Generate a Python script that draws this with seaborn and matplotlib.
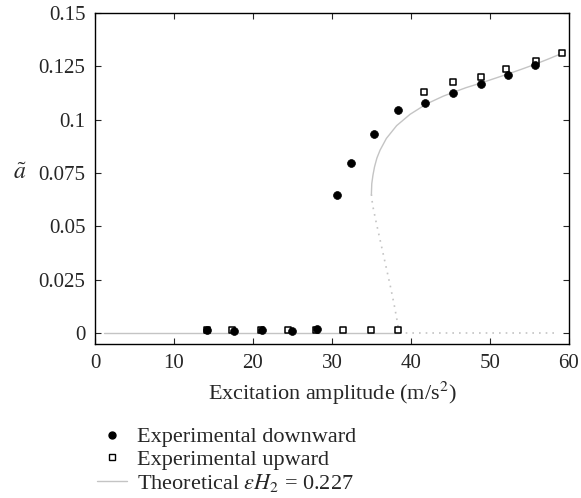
import matplotlib
matplotlib.use("Agg")
import matplotlib.pyplot as plt
import seaborn as sns
from matplotlib.lines import Line2D

# experimental points
down_x = [14.2, 17.6, 21.2, 24.9, 28.1, 30.7, 32.4, 35.3, 38.4, 41.8, 45.3, 48.9, 52.3, 55.7]
down_a = [0.0013, 0.0008, 0.0013, 0.0008, 0.0020, 0.0649, 0.0799, 0.0933, 0.1043,
          0.1080, 0.1127, 0.1167, 0.1210, 0.1258]
up_x = [14.2, 17.4, 21.0, 24.5, 28.0, 31.4, 34.9, 38.4, 41.7, 45.3, 48.9, 52.1, 55.8, 59.1]
up_a = [0.0013, 0.0013, 0.0013, 0.0013, 0.0013, 0.0013, 0.0013, 0.0015,
        0.1128, 0.1178, 0.1198, 0.1236, 0.1277, 0.1312]

# theoretical curve (traced by eye)
stable_x = [35.0, 35.05, 35.2, 35.4, 35.7, 36.1, 36.9, 38.2, 39.9, 42.0, 44.1, 45.3,
            47.0, 48.9, 50.6, 52.3, 54.0, 55.7, 57.4, 59.1]
stable_a = [0.0650, 0.0700, 0.0740, 0.0779, 0.0820, 0.0857, 0.0912, 0.0972, 0.1025,
            0.1074, 0.1110, 0.1127, 0.1150, 0.1172, 0.1193, 0.1214, 0.1236, 0.1259,
            0.1284, 0.1310]
unstable_x = [35.0, 35.15, 35.6, 36.2, 36.8, 37.4, 37.9, 38.3, 38.5]
unstable_a = [0.065, 0.060, 0.052, 0.042, 0.032, 0.022, 0.013, 0.005, 0.0]
trivial_x = [1.1, 38.5]
trivial_a = [0.0, 0.0]
trivial_unst_x = [38.5, 58.5]
trivial_unst_a = [0.0, 0.0]

sns.set_style("ticks")
plt.rcParams["font.family"] = ["Liberation Serif", "DejaVu Serif"]
plt.rcParams["mathtext.fontset"] = "stix"

fig = plt.figure(figsize=(5.81, 4.98), dpi=100)
ax = fig.add_axes([0.1635, 0.309, 0.8155, 0.665])

gray = "#c4c4c4"
sns.lineplot(x=stable_x, y=stable_a, ax=ax, color=gray, lw=1, sort=False, estimator=None)
sns.lineplot(x=trivial_x, y=trivial_a, ax=ax, color=gray, lw=1, sort=False, estimator=None)
sns.lineplot(x=unstable_x, y=unstable_a, ax=ax, color=gray, lw=1.2, ls=(0, (1, 3)),
             sort=False, estimator=None)
sns.lineplot(x=trivial_unst_x, y=trivial_unst_a, ax=ax, color=gray, lw=1.2, ls=(0, (1, 3)),
             sort=False, estimator=None)

sns.scatterplot(x=up_x, y=up_a, ax=ax, marker="s", s=22, facecolor="white",
                edgecolor="black", linewidth=1.1, zorder=3)
sns.scatterplot(x=down_x, y=down_a, ax=ax, marker="o", s=32, color="black",
                edgecolor="black", linewidth=0.5, zorder=4)

ax.set_xlim(0, 60)
ax.set_ylim(-0.0052, 0.15)
ax.set_xticks([0, 10, 20, 30, 40, 50, 60])
ax.set_yticks([0, 0.025, 0.05, 0.075, 0.1, 0.125, 0.15])
ax.set_yticklabels(["0", "0.025", "0.05", "0.075", "0.1", "0.125", "0.15"])
ax.tick_params(direction="in", top=True, right=True, length=4, width=0.8,
               labelsize=15, pad=7)
for sp in ax.spines.values():
    sp.set_linewidth(1.0)
    sp.set_color("black")

ax.set_xlabel("Excitation amplitude (m/s$^2$)", fontsize=16, labelpad=5)
ax.set_ylabel(r"$\tilde{a}$", fontsize=17, rotation=0, ha="center", va="center")
ax.yaxis.set_label_coords(-0.158, 0.515)

handles = [
    Line2D([], [], ls="none", marker="o", color="black", markersize=5),
    Line2D([], [], ls="none", marker="s", markerfacecolor="white",
           markeredgecolor="black", markersize=4.5, markeredgewidth=1.0),
    Line2D([], [], color=gray, lw=1),
]
labels = ["Experimental downward", "Experimental upward",
          r"Theoretical $\varepsilon H_2$ = 0.227"]
fig.legend(handles, labels, loc="upper left", bbox_to_anchor=(0.167, 0.143),
           frameon=False, fontsize=16, handlelength=1.35, handletextpad=0.45,
           labelspacing=0.09, borderpad=0, borderaxespad=0)

fig.savefig("out.png", dpi=100)
